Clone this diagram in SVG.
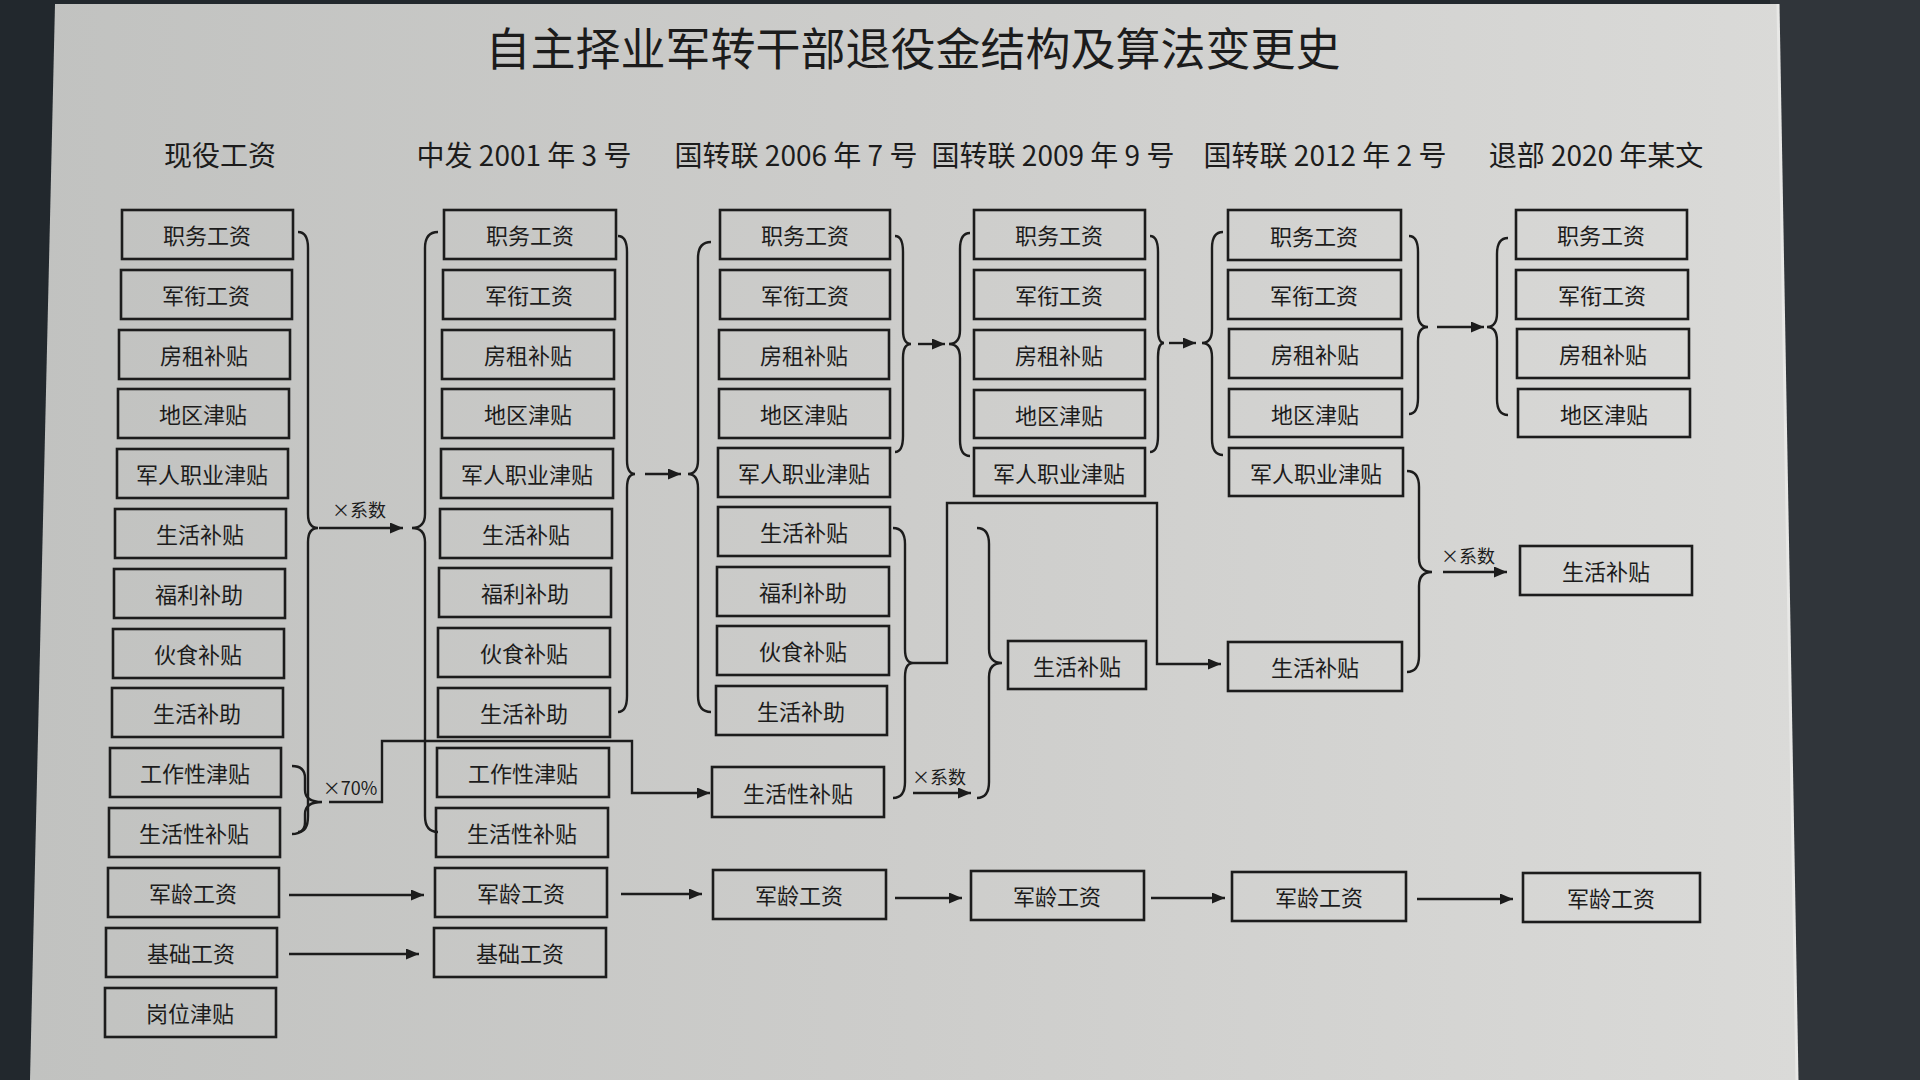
<svg xmlns="http://www.w3.org/2000/svg" width="1920" height="1080" viewBox="0 0 1920 1080">
<defs>
<linearGradient id="page" x1="0" y1="0" x2="1" y2="0">
<stop offset="0" stop-color="#c1c2c0"/>
<stop offset="0.5" stop-color="#cdcdcb"/>
<stop offset="1" stop-color="#dadad8"/>
</linearGradient>
<marker id="ah" viewBox="0 0 13 11" refX="13" refY="5.5" markerWidth="13" markerHeight="11" markerUnits="userSpaceOnUse" orient="auto">
<path d="M0,0 L13,5.5 L0,11 z" fill="#1c1c1c"/>
</marker>
<style>
text{font-family:"Noto Sans CJK SC","Noto Sans",sans-serif;fill:#1c1c1c;}
.box rect{fill:none;stroke:#1c1c1c;stroke-width:2.6;}
.box text{font-size:22px;text-anchor:middle;dominant-baseline:central;}
.hdr{font-size:28px;text-anchor:middle;dominant-baseline:central;}
.title{font-size:45px;text-anchor:middle;dominant-baseline:central;}
.lbl{font-size:18px;text-anchor:middle;dominant-baseline:central;}
.ln{fill:none;stroke:#1c1c1c;stroke-width:2.4;}
.arr{fill:none;stroke:#1c1c1c;stroke-width:2.4;marker-end:url(#ah);}
</style>
</defs>
<rect x="0" y="0" width="1920" height="1080" fill="#22282d"/>
<polygon points="1770,0 1920,0 1920,1080 1790,1080" fill="#30353a"/>
<polygon points="55,4 1778,4 1797,1080 30,1080" fill="url(#page)"/>
<line x1="1778" y1="4" x2="1797" y2="1080" stroke="#e8e8e6" stroke-width="3"/>

<text class="title" x="913" y="46">自主择业军转干部退役金结构及算法变更史</text>
<g id="headers">
<text class="hdr" x="220" y="154">现役工资</text>
<text class="hdr" x="524" y="154">中发 2001 年 3 号</text>
<text class="hdr" x="796" y="154">国转联 2006 年 7 号</text>
<text class="hdr" x="1053" y="154">国转联 2009 年 9 号</text>
<text class="hdr" x="1325" y="154">国转联 2012 年 2 号</text>
<text class="hdr" x="1596" y="154">退部 2020 年某文</text>
</g>

<!-- Column 1 -->
<g id="c1-1" class="box"><rect x="122" y="210" width="171" height="49"/><text x="207" y="234">职务工资</text></g>
<g id="c1-2" class="box"><rect x="121" y="270" width="171" height="49"/><text x="206" y="294">军衔工资</text></g>
<g id="c1-3" class="box"><rect x="119" y="330" width="171" height="49"/><text x="204" y="354">房租补贴</text></g>
<g id="c1-4" class="box"><rect x="118" y="389" width="171" height="49"/><text x="203" y="413">地区津贴</text></g>
<g id="c1-5" class="box"><rect x="117" y="449" width="171" height="49"/><text x="202" y="473">军人职业津贴</text></g>
<g id="c1-6" class="box"><rect x="115" y="509" width="171" height="49"/><text x="200" y="533">生活补贴</text></g>
<g id="c1-7" class="box"><rect x="114" y="569" width="171" height="49"/><text x="199" y="593">福利补助</text></g>
<g id="c1-8" class="box"><rect x="113" y="629" width="171" height="49"/><text x="198" y="653">伙食补贴</text></g>
<g id="c1-9" class="box"><rect x="112" y="688" width="171" height="49"/><text x="197" y="712">生活补助</text></g>
<g id="c1-10" class="box"><rect x="110" y="748" width="171" height="49"/><text x="195" y="772">工作性津贴</text></g>
<g id="c1-11" class="box"><rect x="109" y="808" width="171" height="49"/><text x="194" y="832">生活性补贴</text></g>
<g id="c1-12" class="box"><rect x="108" y="868" width="171" height="49"/><text x="193" y="892">军龄工资</text></g>
<g id="c1-13" class="box"><rect x="106" y="928" width="171" height="49"/><text x="191" y="952">基础工资</text></g>
<g id="c1-14" class="box"><rect x="105" y="988" width="171" height="49"/><text x="190" y="1012">岗位津贴</text></g>

<!-- Column 2 -->
<g id="c2-1" class="box"><rect x="444" y="210" width="172" height="49"/><text x="530" y="234">职务工资</text></g>
<g id="c2-2" class="box"><rect x="443" y="270" width="172" height="49"/><text x="529" y="294">军衔工资</text></g>
<g id="c2-3" class="box"><rect x="442" y="330" width="172" height="49"/><text x="528" y="354">房租补贴</text></g>
<g id="c2-4" class="box"><rect x="442" y="389" width="172" height="49"/><text x="528" y="413">地区津贴</text></g>
<g id="c2-5" class="box"><rect x="441" y="449" width="172" height="49"/><text x="527" y="473">军人职业津贴</text></g>
<g id="c2-6" class="box"><rect x="440" y="509" width="172" height="49"/><text x="526" y="533">生活补贴</text></g>
<g id="c2-7" class="box"><rect x="439" y="568" width="172" height="49"/><text x="525" y="592">福利补助</text></g>
<g id="c2-8" class="box"><rect x="438" y="628" width="172" height="49"/><text x="524" y="652">伙食补贴</text></g>
<g id="c2-9" class="box"><rect x="438" y="688" width="172" height="49"/><text x="524" y="712">生活补助</text></g>
<g id="c2-10" class="box"><rect x="437" y="748" width="172" height="49"/><text x="523" y="772">工作性津贴</text></g>
<g id="c2-11" class="box"><rect x="436" y="808" width="172" height="49"/><text x="522" y="832">生活性补贴</text></g>
<g id="c2-12" class="box"><rect x="435" y="868" width="172" height="49"/><text x="521" y="892">军龄工资</text></g>
<g id="c2-13" class="box"><rect x="434" y="928" width="172" height="49"/><text x="520" y="952">基础工资</text></g>

<!-- Column 3 -->
<g id="c3-1" class="box"><rect x="720" y="210" width="170" height="49"/><text x="805" y="234">职务工资</text></g>
<g id="c3-2" class="box"><rect x="720" y="270" width="170" height="49"/><text x="805" y="294">军衔工资</text></g>
<g id="c3-3" class="box"><rect x="719" y="330" width="170" height="49"/><text x="804" y="354">房租补贴</text></g>
<g id="c3-4" class="box"><rect x="719" y="389" width="171" height="49"/><text x="804" y="413">地区津贴</text></g>
<g id="c3-5" class="box"><rect x="718" y="448" width="172" height="49"/><text x="804" y="472">军人职业津贴</text></g>
<g id="c3-6" class="box"><rect x="718" y="507" width="172" height="49"/><text x="804" y="531">生活补贴</text></g>
<g id="c3-7" class="box"><rect x="717" y="567" width="172" height="49"/><text x="803" y="591">福利补助</text></g>
<g id="c3-8" class="box"><rect x="717" y="626" width="172" height="49"/><text x="803" y="650">伙食补贴</text></g>
<g id="c3-9" class="box"><rect x="716" y="686" width="171" height="49"/><text x="801" y="710">生活补助</text></g>
<g id="c3-10" class="box"><rect x="712" y="767" width="172" height="50"/><text x="798" y="792">生活性补贴</text></g>
<g id="c3-11" class="box"><rect x="713" y="870" width="173" height="49"/><text x="799" y="894">军龄工资</text></g>

<!-- Column 4 -->
<g id="c4-1" class="box"><rect x="974" y="210" width="171" height="49"/><text x="1059" y="234">职务工资</text></g>
<g id="c4-2" class="box"><rect x="974" y="270" width="171" height="49"/><text x="1059" y="294">军衔工资</text></g>
<g id="c4-3" class="box"><rect x="974" y="330" width="171" height="49"/><text x="1059" y="354">房租补贴</text></g>
<g id="c4-4" class="box"><rect x="974" y="390" width="171" height="48"/><text x="1059" y="414">地区津贴</text></g>
<g id="c4-5" class="box"><rect x="974" y="448" width="171" height="48"/><text x="1059" y="472">军人职业津贴</text></g>
<g id="c4-6" class="box"><rect x="1008" y="641" width="138" height="48"/><text x="1077" y="665">生活补贴</text></g>
<g id="c4-7" class="box"><rect x="971" y="871" width="173" height="49"/><text x="1057" y="895">军龄工资</text></g>

<!-- Column 5 -->
<g id="c5-1" class="box"><rect x="1228" y="210" width="173" height="50"/><text x="1314" y="235">职务工资</text></g>
<g id="c5-2" class="box"><rect x="1228" y="270" width="173" height="49"/><text x="1314" y="294">军衔工资</text></g>
<g id="c5-3" class="box"><rect x="1229" y="329" width="173" height="49"/><text x="1315" y="353">房租补贴</text></g>
<g id="c5-4" class="box"><rect x="1229" y="389" width="173" height="48"/><text x="1315" y="413">地区津贴</text></g>
<g id="c5-5" class="box"><rect x="1229" y="448" width="174" height="48"/><text x="1316" y="472">军人职业津贴</text></g>
<g id="c5-6" class="box"><rect x="1228" y="642" width="174" height="49"/><text x="1315" y="666">生活补贴</text></g>
<g id="c5-7" class="box"><rect x="1232" y="872" width="174" height="49"/><text x="1319" y="896">军龄工资</text></g>

<!-- Column 6 -->
<g id="c6-1" class="box"><rect x="1516" y="210" width="171" height="49"/><text x="1601" y="234">职务工资</text></g>
<g id="c6-2" class="box"><rect x="1516" y="270" width="172" height="49"/><text x="1602" y="294">军衔工资</text></g>
<g id="c6-3" class="box"><rect x="1517" y="329" width="172" height="49"/><text x="1603" y="353">房租补贴</text></g>
<g id="c6-4" class="box"><rect x="1518" y="389" width="172" height="48"/><text x="1604" y="413">地区津贴</text></g>
<g id="c6-5" class="box"><rect x="1520" y="546" width="172" height="49"/><text x="1606" y="570">生活补贴</text></g>
<g id="c6-6" class="box"><rect x="1523" y="873" width="177" height="49"/><text x="1611" y="897">军龄工资</text></g>

<!-- Connectors -->
<g id="connectors">
<path class="ln" d="M298,232 Q308,232 308,248 L308,514 Q308,528 318,528 Q308,528 308,542 L308,816 Q308,832 298,832"/>
<path class="ln" d="M292,766 Q305,766 305,778 L305,790 Q305,802 322,802 Q305,802 305,814 L305,822 Q305,834 292,834"/>
<path class="ln" d="M438,232 Q425,232 425,248 L425,514 Q425,528 412,528 Q425,528 425,542 L425,816 Q425,832 438,832"/>
<path class="arr" d="M319,528 L403,528"/>
<text class="lbl" x="359" y="509">×系数</text>
<path class="arr" d="M329,802 L382,802 L382,741 L632,741 L632,793 L710,793"/>
<text class="lbl" x="350" y="787">×70%</text>

<path class="ln" d="M618,236 Q627,236 627,252 L627,460 Q627,474 635,474 Q627,474 627,488 L627,696 Q627,712 618,712"/>
<path class="arr" d="M645,474 L681,474"/>
<path class="ln" d="M711,242 Q698,242 698,258 L698,460 Q698,474 688,474 Q698,474 698,488 L698,696 Q698,712 711,712"/>

<path class="ln" d="M895,236 Q903,236 903,252 L903,330 Q903,344 911,344 Q903,344 903,358 L903,436 Q903,452 895,452"/>
<path class="arr" d="M918,344 L945,344"/>
<path class="ln" d="M970,233 Q960,233 960,249 L960,330 Q960,344 949,344 Q960,344 960,358 L960,440 Q960,456 970,456"/>

<path class="ln" d="M1150,236 Q1158,236 1158,252 L1158,329 Q1158,343 1164,343 Q1158,343 1158,357 L1158,436 Q1158,452 1150,452"/>
<path class="arr" d="M1169,343 L1196,343"/>
<path class="ln" d="M1223,232 Q1212,232 1212,248 L1212,329 Q1212,343 1202,343 Q1212,343 1212,357 L1212,439 Q1212,455 1223,455"/>

<path class="ln" d="M1409,236 Q1418,236 1418,252 L1418,313 Q1418,327 1428,327 Q1418,327 1418,341 L1418,398 Q1418,414 1409,414"/>
<path class="arr" d="M1437,327 L1484,327"/>
<path class="ln" d="M1508,238 Q1497,238 1497,254 L1497,313 Q1497,327 1487,327 Q1497,327 1497,341 L1497,399 Q1497,415 1508,415"/>

<path class="ln" d="M1407,471 Q1419,471 1419,487 L1419,558 Q1419,572 1432,572 Q1419,572 1419,586 L1419,656 Q1419,672 1407,672"/>
<path class="arr" d="M1443,572 L1507,572"/>
<text class="lbl" x="1468" y="555">×系数</text>

<path class="ln" d="M893,528 Q905,528 905,544 L905,649 Q905,663 913,663 Q905,663 905,677 L905,782 Q905,798 893,798"/>
<path class="arr" d="M913,663 L947,663 L947,503 L1157,503 L1157,664 L1221,664"/>
<path class="ln" d="M977,528 Q989,528 989,544 L989,649 Q989,663 1002,663 Q989,663 989,677 L989,782 Q989,798 977,798"/>
<path class="arr" d="M913,793 L971,793"/>
<text class="lbl" x="939" y="776">×系数</text>

<path class="arr" d="M289,895 L424,895"/>
<path class="arr" d="M289,954 L419,954"/>
<path class="arr" d="M621,894 L702,894"/>
<path class="arr" d="M895,898 L962,898"/>
<path class="arr" d="M1151,898 L1225,898"/>
<path class="arr" d="M1417,899 L1513,899"/>
</g>
</svg>
